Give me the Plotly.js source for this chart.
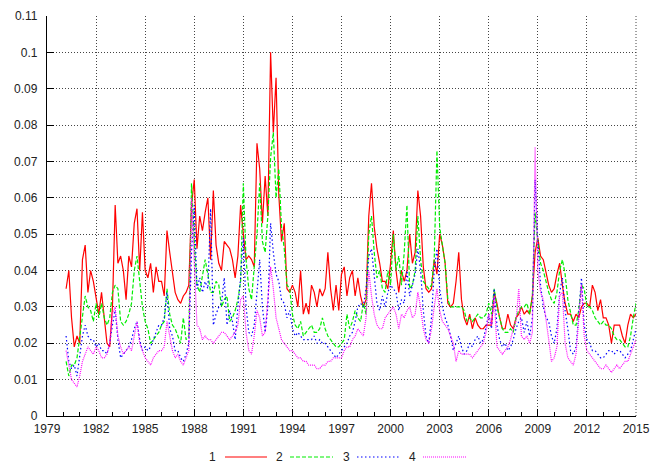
<!DOCTYPE html>
<html><head><meta charset="utf-8">
<script src="https://cdn.plot.ly/plotly-3.0.1.min.js"></script>
<style>html,body{margin:0;padding:0;background:#fff}#chart{width:650px;height:464px}</style>
</head><body><div id="chart"></div>
<script>
// Series names (legend labels)
const seriesNames = ['1', '2', '3', '4'];
// Sampling: every 2 months starting March 1980, ending January 2015
const startYear = 1980, startMonth = 3, stepMonths = 2;
// Axis tick labels
const xTickYears = [1979, 1982, 1985, 1988, 1991, 1994, 1997, 2000, 2003, 2006, 2009, 2012, 2015];
const yTickVals = [0, 0.01, 0.02, 0.03, 0.04, 0.05, 0.06, 0.07, 0.08, 0.09, 0.1, 0.11];
const yTickText = ['0', '0.01', '0.02', '0.03', '0.04', '0.05', '0.06', '0.07', '0.08', '0.09', '0.1', '0.11'];

// Series 1 (red, solid)
const s1 = [
  0.035, 0.040, 0.027, 0.019, 0.022,
  0.020, 0.043, 0.047, 0.034, 0.040, 0.037,
  0.033, 0.028, 0.034, 0.026, 0.020, 0.019,
  0.030, 0.058, 0.042, 0.044, 0.040, 0.032,
  0.044, 0.041, 0.053, 0.057, 0.040, 0.056,
  0.040, 0.038, 0.042, 0.034, 0.041, 0.037,
  0.037, 0.033, 0.051, 0.045, 0.040, 0.034,
  0.032, 0.031, 0.033, 0.034, 0.036, 0.058,
  0.065, 0.046, 0.055, 0.051, 0.056, 0.060,
  0.043, 0.062, 0.047, 0.042, 0.040, 0.048,
  0.047, 0.046, 0.043, 0.038, 0.044, 0.058,
  0.050, 0.043, 0.044, 0.043, 0.041, 0.075,
  0.068, 0.053, 0.066, 0.055, 0.100, 0.078,
  0.093, 0.061, 0.048, 0.053, 0.035, 0.034,
  0.036, 0.034, 0.030, 0.040, 0.028, 0.031,
  0.028, 0.036, 0.034, 0.030, 0.035, 0.033,
  0.035, 0.045, 0.035, 0.029, 0.036, 0.029,
  0.039, 0.041, 0.033, 0.038, 0.040, 0.033,
  0.038, 0.033, 0.030, 0.032, 0.055, 0.064,
  0.052, 0.046, 0.042, 0.037, 0.037, 0.035,
  0.042, 0.051, 0.040, 0.034, 0.040, 0.037,
  0.040, 0.050, 0.042, 0.045, 0.062, 0.055,
  0.041, 0.035, 0.034, 0.035, 0.043, 0.039,
  0.050, 0.047, 0.042, 0.031, 0.030, 0.031,
  0.037, 0.045, 0.032, 0.027, 0.025, 0.028,
  0.024, 0.027, 0.025, 0.024, 0.024, 0.025,
  0.025, 0.025, 0.034, 0.031, 0.027, 0.024,
  0.024, 0.028, 0.025, 0.024, 0.027, 0.028,
  0.030, 0.028, 0.029, 0.028, 0.033, 0.045,
  0.049, 0.044, 0.043, 0.039, 0.036, 0.034,
  0.035, 0.039, 0.042, 0.036, 0.031, 0.028,
  0.028, 0.026, 0.028, 0.027, 0.030, 0.031,
  0.031, 0.030, 0.036, 0.034, 0.029, 0.032,
  0.027, 0.027, 0.025, 0.020, 0.025, 0.025,
  0.025, 0.022, 0.020, 0.025, 0.028, 0.027,
  0.028
];
// Series 2 (green, dashed)
const s2 = [
  0.015, 0.011, 0.014, 0.014, 0.016,
  0.022, 0.027, 0.033, 0.030, 0.029, 0.026,
  0.031, 0.027, 0.031, 0.027, 0.025, 0.027,
  0.034, 0.036, 0.035, 0.026, 0.025, 0.026,
  0.028, 0.031, 0.040, 0.044, 0.037, 0.030,
  0.026, 0.024, 0.020, 0.021, 0.022, 0.023,
  0.025, 0.026, 0.035, 0.028, 0.025, 0.024,
  0.022, 0.020, 0.027, 0.021, 0.022, 0.064,
  0.048, 0.036, 0.034, 0.038, 0.043, 0.039,
  0.034, 0.034, 0.037, 0.036, 0.030, 0.032,
  0.033, 0.026, 0.027, 0.029, 0.032, 0.037,
  0.064, 0.043, 0.035, 0.032, 0.040, 0.050,
  0.064, 0.048, 0.045, 0.055, 0.071, 0.078,
  0.060, 0.068, 0.052, 0.046, 0.036, 0.035,
  0.028, 0.025, 0.024, 0.026, 0.022, 0.023,
  0.024, 0.025, 0.023, 0.023, 0.024, 0.027,
  0.024, 0.022, 0.021, 0.020, 0.019, 0.019,
  0.020, 0.021, 0.028, 0.024, 0.026, 0.029,
  0.027, 0.026, 0.031, 0.028, 0.050, 0.055,
  0.045, 0.038, 0.040, 0.035, 0.034, 0.040,
  0.036, 0.050, 0.040, 0.044, 0.036, 0.045,
  0.058, 0.035, 0.036, 0.040, 0.055, 0.043,
  0.037, 0.036, 0.035, 0.036, 0.043, 0.073,
  0.052, 0.047, 0.042, 0.032, 0.030, 0.030,
  0.030, 0.030, 0.030, 0.029, 0.026, 0.027,
  0.026, 0.027, 0.028, 0.027, 0.027, 0.028,
  0.031, 0.028, 0.035, 0.030, 0.027, 0.024,
  0.023, 0.023, 0.024, 0.023, 0.027, 0.029,
  0.030, 0.030, 0.031, 0.028, 0.033, 0.056,
  0.048, 0.042, 0.040, 0.037, 0.034, 0.032,
  0.031, 0.034, 0.040, 0.043, 0.039, 0.032,
  0.028, 0.025, 0.025, 0.029, 0.036, 0.035,
  0.030, 0.030, 0.029, 0.027, 0.026, 0.025,
  0.026, 0.025, 0.025, 0.024, 0.022, 0.021,
  0.021, 0.020, 0.019, 0.019, 0.022, 0.027,
  0.031
];
// Series 3 (blue, dotted)
const s3 = [
  0.022, 0.015, 0.013, 0.014, 0.011,
  0.016, 0.022, 0.025, 0.022, 0.021, 0.021,
  0.019, 0.020, 0.018, 0.018, 0.017, 0.020,
  0.025, 0.029, 0.021, 0.016, 0.017, 0.018,
  0.019, 0.021, 0.024, 0.026, 0.021, 0.018,
  0.019, 0.018, 0.019, 0.021, 0.023, 0.025,
  0.025, 0.027, 0.034, 0.024, 0.022, 0.018,
  0.018, 0.016, 0.015, 0.017, 0.020, 0.045,
  0.058, 0.035, 0.038, 0.034, 0.037, 0.035,
  0.057, 0.025, 0.028, 0.030, 0.031, 0.038,
  0.025, 0.029, 0.026, 0.021, 0.030, 0.038,
  0.049, 0.030, 0.023, 0.022, 0.025, 0.035,
  0.043, 0.030, 0.023, 0.030, 0.053, 0.045,
  0.039, 0.037, 0.032, 0.031, 0.027, 0.029,
  0.024, 0.022, 0.023, 0.022, 0.021, 0.021,
  0.021, 0.021, 0.022, 0.020, 0.021, 0.020,
  0.020, 0.019, 0.018, 0.017, 0.016, 0.017,
  0.018, 0.019, 0.020, 0.022, 0.023, 0.026,
  0.030, 0.031, 0.030, 0.035, 0.044, 0.046,
  0.038, 0.031, 0.029, 0.033, 0.030, 0.034,
  0.036, 0.035, 0.034, 0.029, 0.032, 0.031,
  0.040, 0.033, 0.036, 0.039, 0.046, 0.040,
  0.029, 0.022, 0.020, 0.027, 0.040, 0.046,
  0.035, 0.030, 0.027, 0.025, 0.022, 0.018,
  0.020, 0.022, 0.019, 0.017, 0.018, 0.020,
  0.019, 0.021, 0.022, 0.020, 0.021, 0.025,
  0.028, 0.024, 0.035, 0.025, 0.021, 0.019,
  0.020, 0.018, 0.019, 0.021, 0.024, 0.026,
  0.027, 0.023, 0.026, 0.022, 0.027, 0.065,
  0.048, 0.036, 0.030, 0.027, 0.026, 0.022,
  0.020, 0.024, 0.034, 0.038, 0.029, 0.024,
  0.018, 0.017, 0.019, 0.028, 0.038, 0.025,
  0.021, 0.020, 0.018, 0.018, 0.017, 0.016,
  0.016, 0.017, 0.018, 0.018, 0.017, 0.018,
  0.018, 0.017, 0.016, 0.017, 0.018, 0.021,
  0.024
];
// Series 4 (magenta, fine dotted)
const s4 = [
  0.018, 0.014, 0.010, 0.009, 0.008,
  0.011, 0.015, 0.017, 0.019, 0.018, 0.017,
  0.019, 0.018, 0.016, 0.016, 0.017, 0.020,
  0.028, 0.030, 0.022, 0.019, 0.017, 0.018,
  0.019, 0.018, 0.022, 0.026, 0.020, 0.018,
  0.016, 0.015, 0.014, 0.016, 0.017, 0.018,
  0.018, 0.019, 0.026, 0.022, 0.018, 0.016,
  0.017, 0.015, 0.014, 0.016, 0.018, 0.060,
  0.040, 0.025, 0.024, 0.021, 0.022, 0.021,
  0.021, 0.020, 0.021, 0.022, 0.023, 0.023,
  0.022, 0.021, 0.022, 0.023, 0.025, 0.032,
  0.033, 0.023, 0.018, 0.017, 0.022, 0.029,
  0.027, 0.022, 0.023, 0.031, 0.041, 0.035,
  0.027, 0.024, 0.021, 0.020, 0.019, 0.018,
  0.018, 0.017, 0.016, 0.016, 0.015, 0.015,
  0.014, 0.014, 0.014, 0.013, 0.013, 0.014,
  0.014, 0.015, 0.015, 0.016, 0.016, 0.016,
  0.016, 0.018, 0.019, 0.019, 0.021, 0.022,
  0.024, 0.023, 0.022, 0.027, 0.040, 0.033,
  0.028, 0.025, 0.024, 0.024, 0.027, 0.028,
  0.029, 0.030, 0.028, 0.024, 0.028, 0.027,
  0.029, 0.030, 0.027, 0.028, 0.034, 0.030,
  0.024, 0.021, 0.020, 0.024, 0.030, 0.035,
  0.029, 0.026, 0.025, 0.024, 0.022, 0.020,
  0.015, 0.018, 0.017, 0.017, 0.017, 0.017,
  0.016, 0.017, 0.018, 0.019, 0.020, 0.023,
  0.028, 0.025, 0.033, 0.019, 0.018, 0.017,
  0.018, 0.019, 0.021, 0.024, 0.026, 0.035,
  0.022, 0.021, 0.022, 0.020, 0.023, 0.074,
  0.040, 0.034, 0.032, 0.027, 0.021, 0.015,
  0.016, 0.019, 0.033, 0.034, 0.020, 0.016,
  0.015, 0.014, 0.017, 0.027, 0.036, 0.022,
  0.018, 0.017, 0.016, 0.015, 0.014, 0.013,
  0.013, 0.014, 0.013, 0.012, 0.013, 0.014,
  0.013, 0.014, 0.015, 0.015, 0.017, 0.019,
  0.021
];

const seriesData = [s1, s2, s3, s4];
const colors = ['#ff0000', '#00ee00', '#0000ff', '#ff00ff'];
const dashes = ['solid', '4px,2px', '1.5px,2.5px', '1px,1px'];
const widths = [1.2, 1.2, 1.2, 1.2];

// time axis (decimal years) for the bimonthly samples
const time = s1.map((_, i) => startYear + (startMonth - 1 + i * stepMonths) / 12);

const traces = seriesData.map((ys, k) => ({
  x: time, y: ys, type: 'scatter', mode: 'lines', name: seriesNames[k],
  line: { color: colors[k], width: widths[k], dash: dashes[k] },
  showlegend: false
}));

const M = { l: 47, r: 14, t: 16, b: 48 };
const W = 650, H = 464;
const pw = W - M.l - M.r, ph = H - M.t - M.b;
const toPX = px => (px - M.l) / pw;
const toPY = py => (H - M.b - py) / ph;

const font = { family: 'Liberation Sans, Arial, sans-serif', size: 12, color: '#222' };

// manual gnuplot-style legend: label then sample
const legY = 457;
const legLabelX = [212, 279, 346, 412];
const legSample = [[225, 267], [290, 333], [357, 400], [423, 467]];
const shapes = [], annotations = [];
seriesNames.forEach((nm, k) => {
  annotations.push({ xref: 'paper', yref: 'paper', x: toPX(legLabelX[k]), y: toPY(legY),
    text: nm, showarrow: false, xanchor: 'center', yanchor: 'middle', font: font });
  shapes.push({ type: 'line', xref: 'paper', yref: 'paper',
    x0: toPX(legSample[k][0]), x1: toPX(legSample[k][1]), y0: toPY(legY), y1: toPY(legY),
    line: { color: colors[k], width: widths[k], dash: dashes[k] } });
});
// dotted right edge of the plot frame (as in gnuplot grid at last tick)
shapes.push({ type: 'line', xref: 'paper', yref: 'paper', x0: 1, x1: 1, y0: 0, y1: 1,
  line: { color: '#444', width: 1, dash: '1px,2px' }, layer: 'below' });

const gridStyle = { showgrid: true, gridcolor: '#444', griddash: '1px,2px', gridwidth: 1 };
const layout = {
  width: W, height: H, margin: M,
  paper_bgcolor: '#fff', plot_bgcolor: '#fff',
  font: font, showlegend: false,
  xaxis: Object.assign({
    range: [1979, 2015], tickmode: 'array', tickvals: xTickYears, ticktext: xTickYears.map(String),
    ticks: 'inside', ticklen: 7, tickcolor: '#000', tickwidth: 1,
    showline: true, linecolor: '#000', linewidth: 1.2, mirror: false,
    zeroline: false, tickfont: font, ticklabelstandoff: 1,
    minor: { dtick: 1, tick0: 1979, ticks: 'inside', ticklen: 4, tickcolor: '#000', showgrid: false }
  }, gridStyle),
  yaxis: Object.assign({
    range: [0, 0.11], tickmode: 'array', tickvals: yTickVals, ticktext: yTickText,
    ticks: 'inside', ticklen: 7, tickcolor: '#000', tickwidth: 1,
    showline: true, linecolor: '#000', linewidth: 1.2, mirror: false,
    zeroline: false, tickfont: font, ticklabelstandoff: 6
  }, gridStyle),
  shapes: shapes, annotations: annotations
};

Plotly.newPlot('chart', traces, layout, { displayModeBar: false, staticPlot: true });
</script>
</body></html>
